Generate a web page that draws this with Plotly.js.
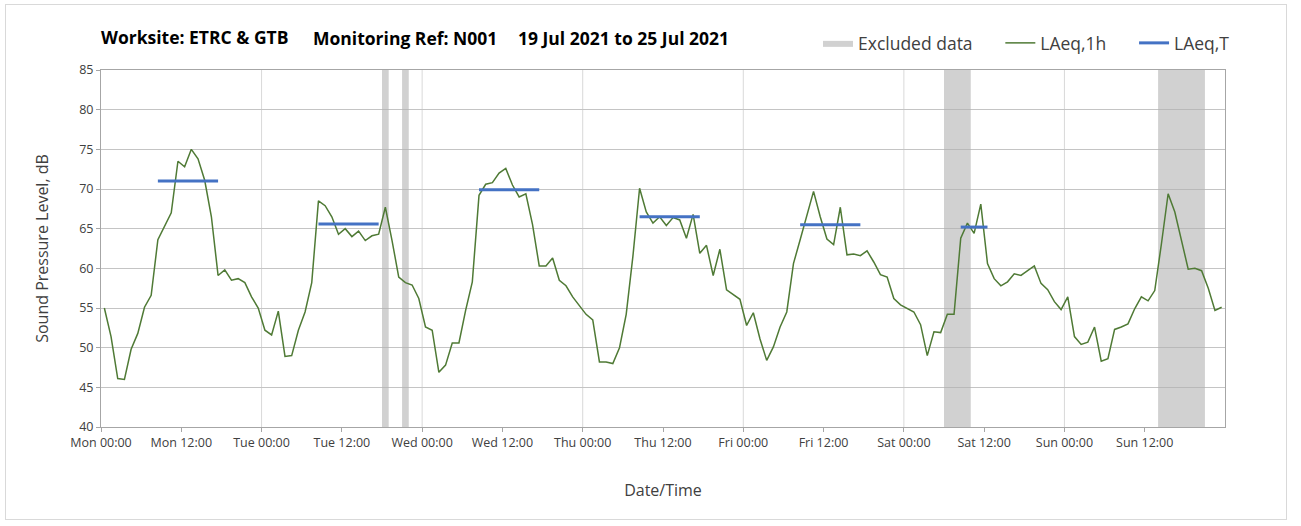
<!DOCTYPE html>
<html>
<head>
<meta charset="utf-8">
<script src="https://cdn.plot.ly/plotly-3.0.1.min.js"></script>
<style>
  html, body { margin: 0; padding: 0; background: #ffffff; }
  #frame { position: absolute; left: 5px; top: 4px; width: 1282px; height: 516px; border: 1px solid #d9d9d9; box-sizing: border-box; }
  #chart { position: absolute; left: 0; top: 0; width: 1301px; height: 526px; }
</style>
</head>
<body>
<div id="frame"></div>
<div id="chart"></div>
<script>
// ---- data ----
// Hourly LAeq,1h values (dB), Mon 00:00 .. Sun 23:00
const laeq1h = [
  // Mon
  55.0, 51.4, 46.1, 46.0, 49.8, 51.8, 55.1, 56.6, 63.6, 65.4, 67.0, 73.5,
  72.8, 75.0, 73.8, 71.1, 66.5, 59.1, 59.8, 58.5, 58.7, 58.2, 56.4, 55.0,
  // Tue
  52.2, 51.6, 54.6, 48.9, 49.0, 52.2, 54.5, 58.2, 68.5, 67.9, 66.5, 64.3,
  65.0, 64.0, 64.7, 63.5, 64.1, 64.3, 67.7, 63.5, 58.9, 58.2, 57.9, 56.2,
  // Wed
  52.6, 52.2, 46.9, 47.8, 50.6, 50.6, 54.7, 58.3, 69.2, 70.6, 70.8, 72.0,
  72.6, 70.5, 69.0, 69.4, 65.5, 60.3, 60.3, 61.3, 58.5, 57.8, 56.4, 55.3,
  // Thu
  54.2, 53.5, 48.2, 48.2, 48.0, 50.0, 54.2, 61.5, 70.1, 67.1, 65.7, 66.5,
  65.4, 66.4, 66.1, 63.8, 66.8, 61.9, 62.9, 59.1, 62.4, 57.3, 56.7, 56.1,
  // Fri
  52.8, 54.4, 51.1, 48.4, 50.1, 52.6, 54.5, 60.6, 63.6, 66.7, 69.7, 66.5,
  63.7, 63.0, 67.7, 61.7, 61.8, 61.6, 62.2, 60.8, 59.2, 58.9, 56.2, 55.4,
  // Sat
  54.9, 54.5, 52.9, 49.0, 52.0, 51.9, 54.2, 54.2, 63.8, 65.7, 64.4, 68.1,
  60.6, 58.7, 57.8, 58.3, 59.3, 59.1, 59.7, 60.3, 58.1, 57.3, 55.8, 54.8,
  // Sun
  56.4, 51.4, 50.4, 50.7, 52.6, 48.3, 48.6, 52.3, 52.6, 53.0, 54.9, 56.4,
  55.9, 57.2, 63.1, 69.4, 67.1, 63.6, 59.9, 60.0, 59.7, 57.5, 54.7, 55.1
];

// LAeq,T periods (hours from Mon 00:00, first and last hourly mid-points) and values
const ltStart = [8.5, 32.5, 56.5, 80.5, 104.5, 128.5];
const ltEnd   = [17.5, 41.5, 65.5, 89.5, 113.5, 132.5];
const ltValue = [71.0, 65.6, 69.9, 66.5, 65.5, 65.2];

// Excluded data periods (hours from Mon 00:00)
const exclStart = [42, 45, 126, 158];
const exclEnd   = [43, 46, 130, 165];

// Axis ticks
const tickHours  = [0, 12, 24, 36, 48, 60, 72, 84, 96, 108, 120, 132, 144, 156];
const tickLabels = ["Mon 00:00", "Mon 12:00", "Tue 00:00", "Tue 12:00", "Wed 00:00", "Wed 12:00",
                    "Thu 00:00", "Thu 12:00", "Fri 00:00", "Fri 12:00", "Sat 00:00", "Sat 12:00",
                    "Sun 00:00", "Sun 12:00"];
const dayLines = [24, 48, 72, 96, 120, 144];
const yMin = 40, yMax = 85;

// Title pieces and legend names
const titleParts = ["Worksite: ETRC &amp; GTB", "Monitoring Ref: N001", "19 Jul 2021 to 25 Jul 2021"];
const seriesNames = ["Excluded data", "LAeq,1h", "LAeq,T"];
const legendPad = "\u00a0\u00a0\u00a0\u00a0\u00a0";

// ---- traces ----
const hourX = laeq1h.map((v, i) => i + 0.5);

const exX = [], exY = [];
exclStart.forEach((s, i) => {
  exX.push(s, s, exclEnd[i], exclEnd[i], s, null);
  exY.push(yMin, yMax, yMax, yMin, yMin, null);
});
const exclTrace = {
  type: 'scatter',
  mode: 'lines',
  name: seriesNames[0] + legendPad,
  x: exX,
  y: exY,
  fill: 'toself',
  fillcolor: 'rgba(178,178,178,0.6)',
  line: { width: 0, color: 'rgba(0,0,0,0)' },
  hoverinfo: 'skip'
};

const lineTrace = {
  type: 'scatter',
  mode: 'lines',
  name: seriesNames[1] + legendPad,
  x: hourX,
  y: laeq1h,
  line: { color: '#4f7a35', width: 1.5 }
};

const ltX = [], ltY = [];
ltStart.forEach((s, i) => { ltX.push(s, ltEnd[i], null); ltY.push(ltValue[i], ltValue[i], null); });
const ltTrace = {
  type: 'scatter',
  mode: 'lines',
  name: seriesNames[2],
  x: ltX,
  y: ltY,
  line: { color: '#4472c4', width: 3 }
};

const font = '"Open Sans", Lato, sans-serif';
const titleFont = { family: font, size: 17.5, color: '#000000', weight: 'bold' };

const layout = {
  width: 1301,
  height: 526,
  margin: { l: 101, r: 76, t: 70, b: 99 },
  paper_bgcolor: 'rgba(0,0,0,0)',
  plot_bgcolor: '#ffffff',
  font: { family: font, color: '#404040', size: 13 },
  showlegend: true,
  title: {
    text: titleParts[0],
    font: titleFont,
    xref: 'paper', x: 0, xanchor: 'left',
    yref: 'container', y: 1 - 38 / 526, yanchor: 'middle'
  },
  annotations: [
    { text: titleParts[1], font: titleFont, xref: 'paper', yref: 'paper', x: (311 - 101) / 1124, y: 1 + 32 / 357,
      xanchor: 'left', yanchor: 'middle', showarrow: false },
    { text: titleParts[2], font: titleFont, xref: 'paper', yref: 'paper', x: (516 - 101) / 1124, y: 1 + 32 / 357,
      xanchor: 'left', yanchor: 'middle', showarrow: false }
  ],
  legend: {
    orientation: 'h',
    x: (818 - 101) / 1124, xanchor: 'left',
    y: 1 + 27 / 357, yanchor: 'middle',
    font: { family: font, size: 17.5, color: '#404040' },
    bgcolor: 'rgba(0,0,0,0)',
    itemwidth: 30,
    traceorder: 'normal'
  },
  xaxis: {
    range: [0, 168],
    tickmode: 'array',
    tickvals: tickHours,
    ticktext: tickLabels,
    showgrid: false,
    zeroline: false,
    showline: true,
    mirror: true,
    linecolor: '#a6a6a6',
    linewidth: 1,
    ticks: 'outside',
    ticklen: 4,
    tickcolor: '#a6a6a6',
    tickfont: { family: font, size: 12.5, color: '#404040' },
    title: { text: 'Date/Time', font: { family: font, size: 16, color: '#404040' }, standoff: 34 },
    fixedrange: true
  },
  yaxis: {
    range: [yMin, yMax],
    dtick: 5,
    tick0: 40,
    showgrid: true,
    gridcolor: '#c4c4c4',
    gridwidth: 1,
    zeroline: false,
    showline: true,
    mirror: true,
    linecolor: '#a6a6a6',
    ticks: 'outside',
    ticklen: 4,
    tickcolor: '#a6a6a6',
    tickfont: { family: font, size: 12.5, color: '#404040' },
    title: { text: 'Sound Pressure Level, dB', font: { family: font, size: 16, color: '#404040' }, standoff: 26 },
    fixedrange: true
  },
  shapes: dayLines.map(d => ({
    type: 'line', xref: 'x', yref: 'paper', x0: d, x1: d, y0: 0, y1: 1,
    line: { color: '#d9d9d9', width: 1 }, layer: 'below'
  }))
};

Plotly.newPlot('chart', [exclTrace, lineTrace, ltTrace], layout, { displayModeBar: false, staticPlot: true });
</script>
</body>
</html>
